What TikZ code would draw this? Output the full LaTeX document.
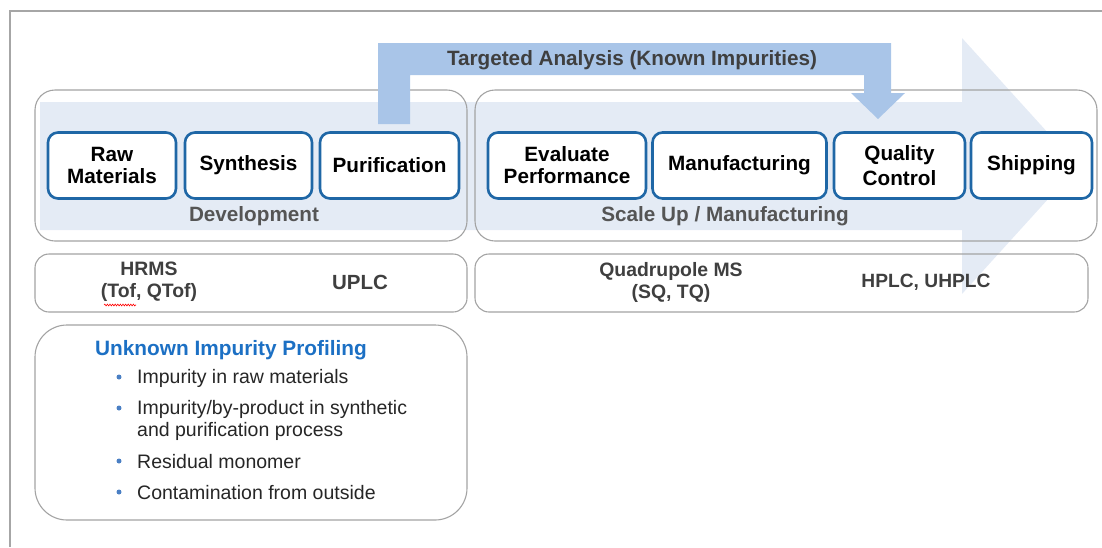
\documentclass[tikz,border=0pt]{standalone}
\usepackage{fontspec}
\setmainfont{Liberation Sans}
\usetikzlibrary{decorations.pathmorphing}
\definecolor{stepblue}{HTML}{1F67A6}
\definecolor{palearrow}{HTML}{E4EBF5}
\definecolor{midarrow}{HTML}{A9C5E8}
\definecolor{framegray}{HTML}{A6A6A6}
\definecolor{boxgray}{HTML}{A3A3A3}
\definecolor{labelgray}{HTML}{555555}
\definecolor{titlegray}{HTML}{3F3F3F}
\definecolor{titleblue}{HTML}{1C70C4}
\definecolor{bulletblue}{HTML}{4A7FC4}
\definecolor{bodytext}{HTML}{262626}
\tikzset{
  stepbox/.style={draw=stepblue, line width=2.6pt, rounded corners=10pt, fill=white,
    minimum height=66pt, inner sep=0pt, align=center, text=black,
    font=\fontsize{20.7}{22}\selectfont\bfseries},
  groupbox/.style={draw=boxgray, line width=1.1pt, rounded corners=20pt},
  stagelabel/.style={text=labelgray, font=\fontsize{20.7}{22}\selectfont\bfseries, inner sep=0pt},
  instr/.style={text=titlegray, font=\fontsize{19.4}{22}\selectfont\bfseries, align=center, inner sep=0pt},
  item/.style={anchor=west, text=bodytext, font=\fontsize{19.5}{22}\selectfont, align=left, inner sep=0pt},
  bul/.style={circle, fill=bulletblue, inner sep=0pt, minimum size=5pt}
}
\begin{document}
\begin{tikzpicture}[x=1pt,y=-1pt]
\useasboundingbox (0,0) rectangle (1102,547);
% frame
\draw[framegray, line width=1.2pt] (10,547) -- (10,11) -- (1102,11);
% pale process arrow
\fill[palearrow] (40,102) -- (962,102) -- (962,38) -- (1078,166) -- (962,294) -- (962,230) -- (40,230) -- cycle;
% group boxes
\draw[groupbox] (35,90) rectangle (467,241);
\draw[groupbox] (475,90) rectangle (1097,241);
\draw[groupbox, rounded corners=14pt] (35,254) rectangle (467,312);
\draw[groupbox, rounded corners=14pt] (475,254) rectangle (1088,312);
\draw[groupbox, rounded corners=32pt] (35,325) rectangle (467,520);
% targeted analysis arrow
\fill[midarrow] (378,43) -- (891,43) -- (891,93) -- (905,93) -- (878,119) -- (851,93) -- (864,93) -- (864,75) -- (410,75) -- (410,124) -- (378,124) -- cycle;
\node[text=titlegray, font=\fontsize{20.7}{22}\selectfont\bfseries, inner sep=0pt] (targ) at (632,60) {Targeted Analysis (Known Impurities)};
% steps
\node[stepbox, minimum width=128pt] (raw) at (112,165.5) {Raw\\Materials};
\node[stepbox, minimum width=127pt] (syn) at (248.5,165.5) {Synthesis};
\node[stepbox, minimum width=139pt] (pur) at (389.5,165.5) {Purification};
\node[stepbox, minimum width=158pt] (eval) at (567,165.5) {Evaluate\\Performance};
\node[stepbox, minimum width=174pt] (manu) at (739.5,165.5) {Manufacturing};
\node[stepbox, minimum width=131pt] (qc) at (899.5,165.5) {Quality\\[3pt]Control};
\node[stepbox, minimum width=121pt] (ship) at (1031.5,165.5) {Shipping};
% stage labels
\node[stagelabel] (dev) at (254,216) {Development};
\node[stagelabel] (scale) at (725,216) {Scale Up / Manufacturing};
% instruments
\node[instr] (hrms) at (149,282) {HRMS\\(Tof, QTof)};
\node[instr, font=\fontsize{20.5}{22}\selectfont\bfseries] (uplc) at (360,282) {UPLC};
\node[instr] (quad) at (671,282) {Quadrupole MS\\(SQ, TQ)};
\node[instr, font=\fontsize{19.2}{22}\selectfont\bfseries] (hplc) at (926,282) {HPLC, UHPLC};
\draw[red, line width=0.6pt, decorate, decoration={snake, amplitude=0.9pt, segment length=2.6pt}] (104,305) -- (136,305);
% unknown impurity profiling
\node[anchor=west, text=titleblue, font=\fontsize{20.8}{22}\selectfont\bfseries, inner sep=0pt] (unk) at (95,350) {Unknown Impurity Profiling};
\node[bul] (b1) at (119,377) {};
\node[item] (t1) at (137,378) {Impurity in raw materials};
\node[bul] (b2) at (119,408) {};
\node[item] (t2) at (137,420) {Impurity/by-product in synthetic\\and purification process};
\node[bul] (b3) at (119,461) {};
\node[item] (t3) at (137,462) {Residual monomer};
\node[bul] (b4) at (119,492) {};
\node[item] (t4) at (137,493) {Contamination from outside};
\end{tikzpicture}
\end{document}
